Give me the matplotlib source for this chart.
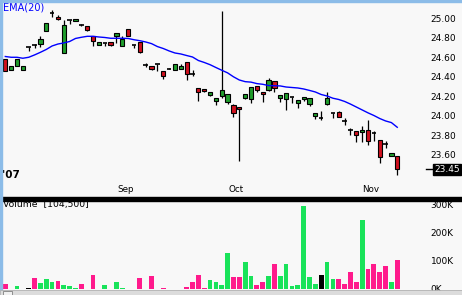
import matplotlib
matplotlib.use("Agg")
import matplotlib.pyplot as plt
import matplotlib.transforms as mtransforms
from matplotlib.patches import Rectangle
import pandas as pd

# trading days Aug 3 - Nov 7 2007 (Labor Day closed)
dates = pd.bdate_range("2007-08-03", "2007-11-07")
dates = dates[dates != pd.Timestamp("2007-09-03")]

opens = [24.58, 24.47, 24.51, 24.47, 24.71, 24.735, 24.74, 24.87, 25.045, 25.01,
         24.64, 24.975, 24.97, 24.935, 24.92, 24.82, 24.73, 24.745, 24.76, 24.82,
         24.72, 24.89, 24.73, 24.76, 24.52, 24.51, 24.53, 24.46, 24.48, 24.47,
         24.48, 24.55, 24.435, 24.28, 24.27, 24.21, 24.15, 24.20, 24.14, 24.11,
         24.09, 24.18, 24.17, 24.31, 24.24, 24.26, 24.36, 24.18, 24.17, 24.185,
         24.13, 24.17, 24.12, 24.00, 23.98, 24.12, 24.025, 24.04, 23.955, 23.855,
         23.84, 23.83, 23.85, 23.825, 23.75, 23.715, 23.59, 23.59]
highs = [24.58, 24.51, 24.58, 24.51, 24.71, 24.735, 24.82, 24.95, 25.08, 25.03,
         24.98, 24.98, 24.99, 24.94, 24.92, 24.82, 24.76, 24.75, 24.76, 24.85,
         24.82, 24.89, 24.73, 24.76, 24.54, 24.51, 24.53, 24.46, 24.49, 24.53,
         24.53, 24.55, 24.47, 24.28, 24.27, 24.24, 24.18, 25.07, 24.22, 24.12,
         24.09, 24.22, 24.29, 24.31, 24.24, 24.39, 24.36, 24.21, 24.23, 24.19,
         24.16, 24.19, 24.18, 24.03, 24.05, 24.24, 24.03, 24.05, 23.98, 23.87,
         23.84, 23.89, 23.96, 23.84, 23.75, 23.74, 23.62, 23.59]
lows = [24.46, 24.47, 24.51, 24.47, 24.66, 24.70, 24.71, 24.87, 25.01, 24.98,
        24.64, 24.94, 24.97, 24.92, 24.87, 24.72, 24.73, 24.72, 24.72, 24.75,
        24.72, 24.82, 24.70, 24.64, 24.50, 24.47, 24.46, 24.38, 24.48, 24.47,
        24.48, 24.37, 24.41, 24.15, 24.24, 24.20, 24.11, 24.18, 24.12, 23.99,
        23.54, 24.17, 24.13, 24.24, 24.14, 24.25, 24.24, 24.14, 24.06, 24.13,
        24.08, 24.15, 24.10, 23.97, 23.96, 24.11, 23.98, 23.99, 23.91, 23.80,
        23.73, 23.73, 23.70, 23.74, 23.52, 23.67, 23.59, 23.39]
closes = [24.46, 24.51, 24.58, 24.51, 24.71, 24.73, 24.79, 24.95, 25.05, 24.99,
          24.93, 24.98, 24.99, 24.93, 24.88, 24.77, 24.76, 24.75, 24.73, 24.85,
          24.79, 24.82, 24.73, 24.65, 24.52, 24.48, 24.53, 24.41, 24.48, 24.53,
          24.51, 24.43, 24.43, 24.24, 24.25, 24.24, 24.18, 24.26, 24.22, 24.03,
          24.07, 24.22, 24.29, 24.26, 24.22, 24.37, 24.28, 24.21, 24.23, 24.19,
          24.16, 24.19, 24.18, 24.03, 23.98, 24.18, 24.03, 23.99, 23.95, 23.85,
          23.80, 23.85, 23.74, 23.82, 23.58, 23.71, 23.62, 23.45]
ema20 = [24.608, 24.60, 24.60, 24.59, 24.60, 24.624, 24.651, 24.68, 24.716, 24.736,
         24.747, 24.762, 24.793, 24.805, 24.815, 24.815, 24.808, 24.803, 24.795, 24.795,
         24.795, 24.793, 24.78, 24.77, 24.757, 24.74, 24.71, 24.69, 24.665, 24.644,
         24.634, 24.618, 24.603, 24.567, 24.547, 24.524, 24.495, 24.467, 24.44, 24.40,
         24.367, 24.35, 24.345, 24.33, 24.323, 24.31, 24.308, 24.306, 24.295, 24.29,
         24.285, 24.275, 24.26, 24.244, 24.218, 24.203, 24.18, 24.167, 24.147, 24.12,
         24.09, 24.06, 24.03, 24.003, 23.972, 23.947, 23.93, 23.882]
volume_k = [18, 0, 11, 0, 4, 39, 21, 36, 25, 30, 14, 11, 4, 18, 0, 50, 0, 14, 0, 25,
            4, 0, 0, 39, 0, 46, 0, 4, 0, 0, 0, 7, 25, 50, 4, 32, 25, 14, 129, 43,
            43, 96, 46, 14, 25, 46, 89, 46, 89, 11, 14, 296, 43, 18, 50, 96, 36, 36, 18, 61,
            25, 246, 71, 89, 61, 82, 25, 104.5]
price_ticks = [23.60, 23.80, 24.00, 24.20, 24.40, 24.60, 24.80, 25.00]
vol_ticks = [0, 100, 200, 300]
vol_labels = ["0K", "100K", "200K", "300K"]

W, H = 462, 295
BG = "#f8f8f8"
UP, DOWN = "#1f9e2c", "#d0101e"
VUP, VDOWN = "#19e35a", "#ff1a8c"

plt.rcParams["font.family"] = ["DejaVu Sans"]
fig = plt.figure(figsize=(W / 100, H / 100), dpi=100, facecolor=BG)


def px_axes(left, top, right, bottom):
    return fig.add_axes([left / W, 1 - bottom / H, (right - left) / W, (bottom - top) / H])


L, R = 2, 425
x0 = -(5.3 - L) / 5.85
x1 = x0 + (R - L) / 5.85

ax = px_axes(L, 2, R, 196)
ax.set_facecolor(BG)
ax.set_xlim(x0, x1)
ax.set_ylim(23.177, 25.167)

n = len(closes)
xs = list(range(n))
for i in xs:
    o, h, l, c = opens[i], highs[i], lows[i], closes[i]
    ax.vlines(i, l, h, color="black", lw=0.9, zorder=2)
    if abs(c - o) < 0.008:
        ax.hlines(c, i - 0.38, i + 0.38, color="black", lw=1.2, zorder=3)
    else:
        col = UP if c > o else DOWN
        ax.bar(i, abs(c - o), bottom=min(o, c), width=0.72, color=col,
               edgecolor="black", lw=0.8, zorder=3)

ax.plot(xs, ema20, color="#0000ff", lw=1.0, zorder=4)

ax.yaxis.tick_right()
ax.set_yticks(price_ticks)
ax.set_yticklabels([f"{p:.2f}" for p in price_ticks])
ax.tick_params(axis="y", length=0, pad=4, labelsize=6.5)
ax.set_xticks([])
for s in ax.spines.values():
    s.set_visible(False)

# month labels at month boundaries
trans = mtransforms.blended_transform_factory(ax.transData, ax.transAxes)
month_first = [i for i in range(1, n) if dates[i].month != dates[i - 1].month]
for i in month_first:
    ax.text(i - 0.5, 0.034, dates[i].strftime("%b"), transform=trans,
            ha="center", va="center", fontsize=6.3)
fig.text(2 / W, 1 - 175.5 / H, "'07", fontsize=7.5, fontweight="bold",
         ha="left", va="center")

# last price marker
tr_r = mtransforms.blended_transform_factory(ax.transAxes, ax.transData)
ax.plot([1.002, 1.018], [closes[-1]] * 2, color="black", lw=1, transform=tr_r, clip_on=False)
ax.text(1.022, closes[-1], f"{closes[-1]:.2f}", transform=tr_r, color="white",
        fontsize=6.5, va="center", ha="left", zorder=6,
        bbox=dict(boxstyle="square,pad=0.15", fc="black", ec="black"))

fig.text(3 / W, 1 - 7.5 / H, "EMA(20)", color="#0000ff", fontsize=7, va="center")

# volume panel
axv = px_axes(L, 201, R, 289)
axv.set_facecolor(BG)
axv.set_xlim(x0, x1)
axv.set_ylim(0, 314)
vcols = [VUP if c > o else (VDOWN if c < o else "black") for o, c in zip(opens, closes)]
axv.bar(xs, volume_k, width=0.82, color=vcols, lw=0)
axv.yaxis.tick_right()
axv.set_yticks(vol_ticks)
axv.set_yticklabels(vol_labels)
axv.tick_params(axis="y", length=0, pad=4, labelsize=6.5)
axv.set_xticks([])
for s in axv.spines.values():
    s.set_visible(False)
fig.text(3 / W, 1 - 205 / H, "Volume  [104,500]", fontsize=6.7, va="center")

# frame pieces
fig.patches.append(Rectangle((0, 1 - 200.5 / H), 1, 4 / H, transform=fig.transFigure,
                             color="black", zorder=10))
fig.patches.append(Rectangle((0, 1 - 1.5 / H), 1, 1.5 / H, transform=fig.transFigure,
                             color="#8cbce8", zorder=10))
fig.patches.append(Rectangle((0, 5 / H), 1.5 / W, 1, transform=fig.transFigure,
                             color="#8cbce8", zorder=10))
fig.patches.append(Rectangle((0, 0), 1, 5 / H, transform=fig.transFigure,
                             fc="#dcdcdc", ec="#b0b0b0", lw=0.6, zorder=10))
fig.patches.append(Rectangle((3 / W, 0), 9 / W, 4 / H, transform=fig.transFigure,
                             fc="#f0f0f0", ec="#808080", lw=0.6, zorder=11))

fig.savefig("out.png", dpi=100, facecolor=BG)
